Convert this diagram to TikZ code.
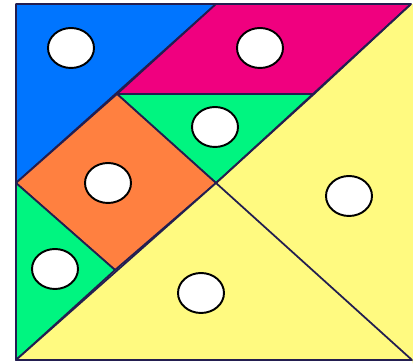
\documentclass[tikz,border=0pt]{standalone}
\usetikzlibrary{shapes.geometric}

\definecolor{tanblue}{RGB}{0,117,255}
\definecolor{tanpink}{RGB}{240,0,127}
\definecolor{tangreen}{RGB}{0,245,128}
\definecolor{tanorange}{RGB}{255,128,64}
\definecolor{tanyellow}{RGB}{255,250,128}
\definecolor{tanedge}{RGB}{35,30,80}

\begin{document}
\begin{tikzpicture}[x=0.02cm,y=-0.02cm,
piece/.style={draw=tanedge,line width=1pt,line join=round},
spot/.style={ellipse,draw,fill=white,line width=1.1pt,minimum width=0.92cm,minimum height=0.8cm,inner sep=0pt}]
\useasboundingbox (0,0) rectangle (413,364);
% outer square
\coordinate (tl) at (16,4); \coordinate (tr) at (411,4);
\coordinate (bl) at (16,360); \coordinate (br) at (412,360);
\coordinate (ml) at (16,183); \coordinate (c) at (216,183);
\coordinate (tm) at (216,4); \coordinate (p1) at (117,94);
\coordinate (p2) at (314,94); \coordinate (o1) at (115,270);
% pieces
\fill[tanyellow] (c) -- (tr) -- (413,4) -- (413,364) -- (br) -- cycle;
\draw[piece,fill=tanblue] (tl) -- (tm) -- (ml) -- cycle;
\draw[piece,fill=tanpink] (tm) -- (tr) -- (p2) -- (p1) -- cycle;
\draw[piece,fill=tangreen] (p1) -- (p2) -- (c) -- cycle;
\draw[piece,fill=tanorange] (ml) -- (p1) -- (c) -- (o1) -- cycle;
\draw[piece,fill=tangreen] (ml) -- (o1) -- (bl) -- cycle;
\draw[piece,fill=tanyellow] (bl) -- (c) -- (br) -- cycle;
\draw[piece] (tr) -- (c);
\draw[piece] (bl) -- (br);
% spots
\node[spot] (sblue) at (71,48) {};
\node[spot] (spink) at (260,48) {};
\node[spot] (sgreen) at (215,127) {};
\node[spot] (sorange) at (108,183) {};
\node[spot] (ssmall) at (55,269) {};
\node[spot] (sbottom) at (201,293) {};
\node[spot] (sright) at (349,196) {};
\end{tikzpicture}
\end{document}
